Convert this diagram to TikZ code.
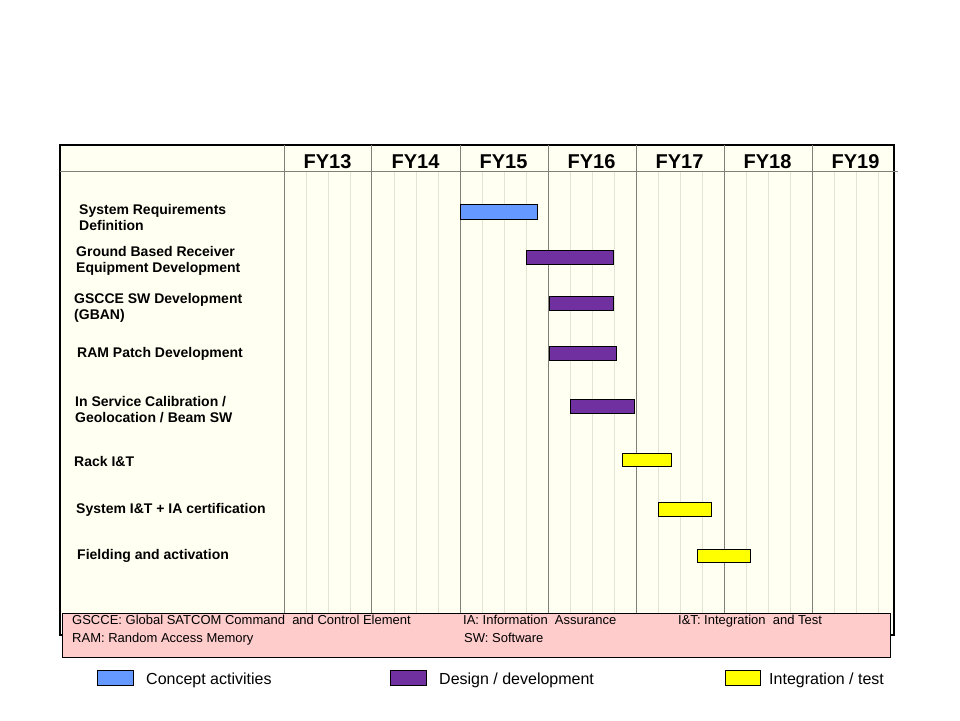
\documentclass[tikz,border=0pt]{standalone}
\usepackage{fontspec}
\setmainfont{Liberation Sans}
\definecolor{chartbg}{HTML}{FFFFF2}
\definecolor{minorgrid}{HTML}{E4E4D4}
\definecolor{majorgrid}{HTML}{808078}
\definecolor{conceptblue}{HTML}{6699FF}
\definecolor{designpurple}{HTML}{7030A0}
\definecolor{testyellow}{HTML}{FFFF00}
\definecolor{notepink}{HTML}{FFCCCC}
\begin{document}
\begin{tikzpicture}[x=1pt, y=-1pt,
  task/.style={anchor=west, align=left, inner sep=0pt, font=\fontsize{14}{16}\selectfont\bfseries},
  year/.style={font=\fontsize{20}{22}\selectfont\bfseries},
  bar/.style={draw=black, line width=0.9pt},
  note/.style={anchor=base west, inner sep=0pt, font=\fontsize{13}{14}\selectfont},
  legend/.style={anchor=base west, inner sep=0pt, font=\fontsize{16}{18}\selectfont}]
  \useasboundingbox (0,0) rectangle (960,720);
  % chart frame and grid
  \draw[fill=chartbg, line width=1.6pt] (60,145) rectangle (894,635);
  \foreach \i in {0,...,6}
    \foreach \q in {1,2,3}
      \draw[minorgrid, line width=0.8pt] ({284+88*\i+22*\q},172) -- ++(0,463);
  \foreach \x in {284,371,460,548,636,724,812}
    \draw[majorgrid, line width=0.9pt] (\x,145) -- (\x,635);
  \draw[majorgrid, line width=1pt] (60,171) -- (898,171);
  \foreach \y [count=\i from 0] in {13,...,19}
    \node[year] (fy\y) at ({327.5+88*\i},162) {FY\y};
  % tasks
  \node[task] (sysreq) at (79,217) {System Requirements\\Definition};
  \node[task] (gbr) at (76,261) {Ground Based Receiver\\Equipment Development};
  \node[task] (gscce) at (74,308) {GSCCE SW Development\\(GBAN)};
  \node[task] (ram) at (77,354) {RAM Patch Development};
  \node[task] (calib) at (75,410) {In Service Calibration /\\Geolocation / Beam SW};
  \node[task] (rack) at (74,461) {Rack I\&T};
  \node[task] (sysit) at (76,510) {System I\&T + IA certification};
  \node[task] (field) at (77,556) {Fielding and activation};
  % bars
  \draw[bar, fill=conceptblue] (460,204) rectangle (537,219);
  \draw[bar, fill=designpurple] (526,250) rectangle (613,264);
  \draw[bar, fill=designpurple] (549,296) rectangle (613,310);
  \draw[bar, fill=designpurple] (549,346) rectangle (616,360);
  \draw[bar, fill=designpurple] (570,399) rectangle (634,413);
  \draw[bar, fill=testyellow] (622,453) rectangle (671,466);
  \draw[bar, fill=testyellow] (658,502) rectangle (711,516);
  \draw[bar, fill=testyellow] (697,549) rectangle (750,562);
  % acronyms
  \draw[fill=notepink, line width=0.8pt] (62,613) rectangle (890,657);
  \node[note] (ngscce) at (72,624.5) {GSCCE: Global SATCOM Command\ \ and Control Element};
  \node[note] (nram) at (72,642.5) {RAM: Random Access Memory};
  \node[note] (nia) at (463,624.5) {IA: Information\ \ Assurance};
  \node[note] (nsw) at (464,642.5) {SW: Software};
  \node[note] (nit) at (678,624.5) {I\&T: Integration\ \ and Test};
  % legend
  \draw[bar, fill=conceptblue] (97,670) rectangle (133,685);
  \node[legend] (lgconcept) at (146,684) {Concept activities};
  \draw[bar, fill=designpurple] (390,670) rectangle (426,685);
  \node[legend] (lgdesign) at (439,684) {Design / development};
  \draw[bar, fill=testyellow] (725,670) rectangle (760,685);
  \node[legend] (lgtest) at (769,684) {Integration / test};
\end{tikzpicture}
\end{document}
